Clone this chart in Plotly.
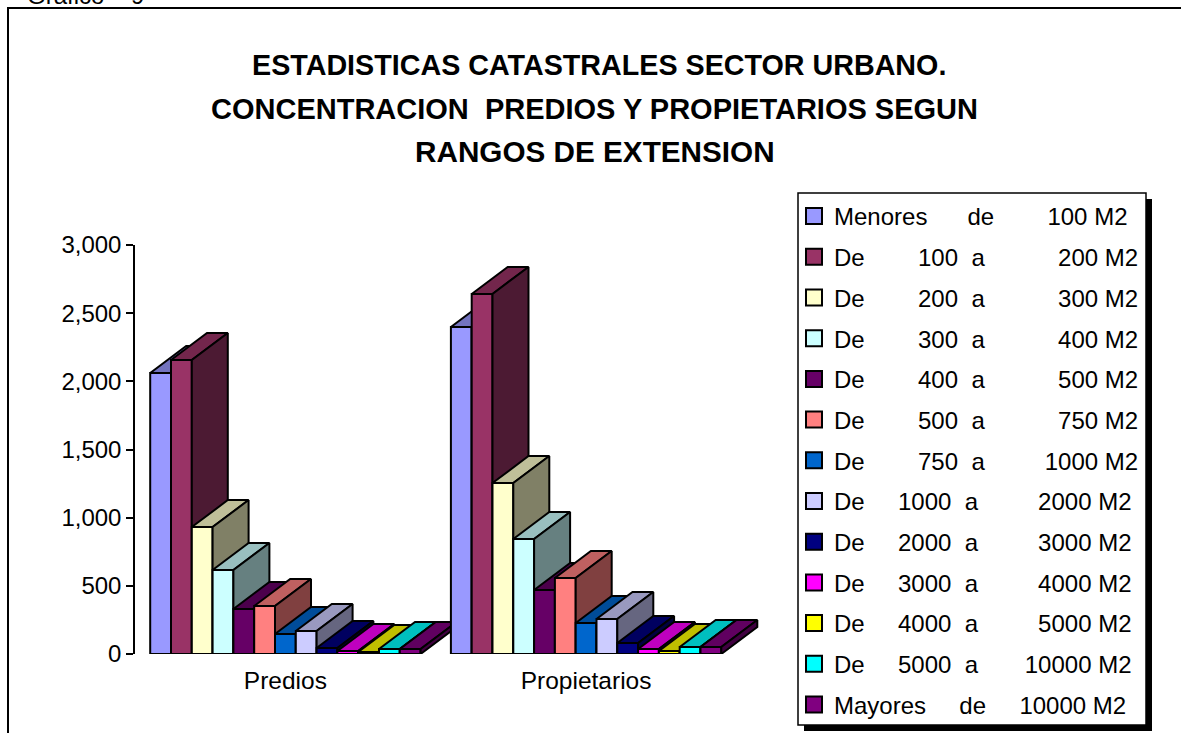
import plotly.graph_objects as go

W, H = 1181, 733
NB = "\u00a0"

categories = ["Predios", "Propietarios"]
series_names = [
    "Menores      de        100 M2",
    "De        100  a           200 M2",
    "De        200  a           300 M2",
    "De        300  a           400 M2",
    "De        400  a           500 M2",
    "De        500  a           750 M2",
    "De        750  a         1000 M2",
    "De     1000  a         2000 M2",
    "De     2000  a         3000 M2",
    "De     3000  a         4000 M2",
    "De     4000  a         5000 M2",
    "De     5000  a       10000 M2",
    "Mayores     de     10000 M2",
]
predios = [2061, 2156, 931, 616, 330, 352, 147, 169, 44, 22, 15, 37, 37]
propietarios = [2399, 2641, 1254, 843, 469, 557, 227, 257, 81, 37, 22, 51, 51]
front_colors = ["#9999FF", "#993366", "#FFFFCC", "#CCFFFF", "#660066", "#FF8080", "#0066CC",
                "#CCCCFF", "#000080", "#FF00FF", "#FFFF00", "#00FFFF", "#800080"]
title_lines = ["ESTADISTICAS CATASTRALES SECTOR URBANO.",
               "CONCENTRACION  PREDIOS Y PROPIETARIOS SEGUN",
               "RANGOS DE EXTENSION"]
y_ticks = [0, 500, 1000, 1500, 2000, 2500, 3000]

FONT = "Liberation Sans, Arial, sans-serif"
PX_PER_CAT = 300.7
PLOT_L, PLOT_R, PLOT_T, PLOT_B = 135, 760, 245, 654
BAR_W = 20.8 / PX_PER_CAT
DEPTH_X = 36 / PX_PER_CAT
DEPTH_Y = 27 * 3000 / (PLOT_B - PLOT_T)
X_RANGE = [-(285.4 - PLOT_L) / PX_PER_CAT, (PLOT_R - 285.4) / PX_PER_CAT]
X_DOMAIN = [PLOT_L / W, PLOT_R / W]
Y_DOMAIN = [(H - PLOT_B) / H, (H - PLOT_T) / H]


def shade(hex_color, k):
    r, g, b = (int(hex_color[i:i + 2], 16) for i in (1, 3, 5))
    return f"rgb({round(r * k)},{round(g * k)},{round(b * k)})"


def px(x):
    return x / W


def py(y):
    return (H - y) / H


fig = go.Figure()
layout_axes = {}
LW = 2
n = 0
for cat_i, values in enumerate([predios, propietarios]):
    for s_i, v in enumerate(values):
        n += 1
        sfx = "" if n == 1 else str(n)
        xa, ya = "x" + sfx, "y" + sfx
        if n > 1:
            layout_axes["xaxis" + sfx] = dict(domain=X_DOMAIN, range=X_RANGE, overlaying="x",
                                              visible=False, anchor=ya)
            layout_axes["yaxis" + sfx] = dict(domain=Y_DOMAIN, range=[0, 3000], overlaying="y",
                                              visible=False, anchor=xa)
        offset = (s_i - 6.5) * BAR_W
        x0 = cat_i + offset
        x1 = x0 + BAR_W
        fig.add_trace(go.Bar(x=[cat_i], y=[v], width=[BAR_W], offset=[offset], xaxis=xa, yaxis=ya,
                             name=series_names[s_i].strip(), legendgroup=f"s{s_i}", showlegend=False,
                             marker=dict(color=front_colors[s_i], line=dict(color="black", width=LW))))
        fig.add_trace(go.Scatter(
            x=[x0, x1, x1 + DEPTH_X, x0 + DEPTH_X, x0], y=[v, v, v + DEPTH_Y, v + DEPTH_Y, v],
            xaxis=xa, yaxis=ya, mode="lines", fill="toself", fillcolor=shade(front_colors[s_i], 0.75),
            line=dict(color="black", width=LW), hoverinfo="skip", showlegend=False,
            legendgroup=f"s{s_i}", cliponaxis=False))
        fig.add_trace(go.Scatter(
            x=[x1, x1, x1 + DEPTH_X, x1 + DEPTH_X, x1], y=[0, v, v + DEPTH_Y, DEPTH_Y, 0],
            xaxis=xa, yaxis=ya, mode="lines", fill="toself", fillcolor=shade(front_colors[s_i], 0.5),
            line=dict(color="black", width=LW), hoverinfo="skip", showlegend=False,
            legendgroup=f"s{s_i}", cliponaxis=False))

for s_i, name in enumerate(series_names):
    fig.add_trace(go.Scatter(x=[None], y=[None], mode="markers", name=name.replace(" ", NB),
                             legendgroup=f"s{s_i}",
                             marker=dict(symbol="square", size=16, color=front_colors[s_i],
                                         line=dict(color="black", width=2))))

annotations = [
    dict(text=line, x=px(xc), y=py(yc), xref="paper", yref="paper", xanchor="center", yanchor="middle",
         showarrow=False, font=dict(family=FONT, size=fs, color="black", weight="bold"))
    for line, xc, yc, fs in zip(title_lines, [599, 594, 595], [65, 109, 151], [28.7, 29, 29.7])
]
annotations.append(dict(text="Gráfico" + NB * 4 + "9", x=px(25), y=py(11), xref="paper", yref="paper",
                        xanchor="left", yanchor="bottom", showarrow=False,
                        font=dict(family=FONT, size=24, color="black")))

shapes = [
    dict(type="line", xref="paper", yref="paper", x0=px(7), x1=px(1181), y0=py(8), y1=py(8),
         line=dict(color="black", width=2), layer="below"),
    dict(type="line", xref="paper", yref="paper", x0=px(8), x1=px(8), y0=py(7), y1=py(733),
         line=dict(color="black", width=2), layer="below"),
    dict(type="rect", xref="paper", yref="paper", x0=px(804), x1=px(1152), y0=py(731), y1=py(199),
         line=dict(width=0), fillcolor="black", layer="below"),
    dict(type="rect", xref="paper", yref="paper", x0=px(798), x1=px(1146), y0=py(725), y1=py(193),
         line=dict(color="black", width=1.5), fillcolor="white", layer="below"),
]

fig.update_layout(
    width=W, height=H, margin=dict(l=0, r=0, t=0, b=0, autoexpand=False), autosize=False,
    paper_bgcolor="white", plot_bgcolor="rgba(0,0,0,0)",
    font=dict(family=FONT, size=24, color="black"),
    barmode="overlay", annotations=annotations, shapes=shapes,
    xaxis=dict(domain=X_DOMAIN, range=X_RANGE, tickmode="array", tickvals=[0, 1], ticktext=categories,
               showline=False, showgrid=False, zeroline=False, ticks="", anchor="y",
               tickfont=dict(size=24.5), ticklabelstandoff=9),
    yaxis=dict(domain=Y_DOMAIN, range=[0, 3000], tickmode="array", tickvals=y_ticks, tickformat=",",
               showline=True, linecolor="black", linewidth=1.5, ticks="outside", ticklen=7,
               tickwidth=1.5, tickcolor="black", showgrid=False, zeroline=False, anchor="x",
               tickfont=dict(size=24)),
    legend=dict(x=px(794), y=py(194), xanchor="left", yanchor="top", bgcolor="rgba(0,0,0,0)",
                borderwidth=0, font=dict(family=FONT, size=24, color="black"), itemwidth=30,
                tracegroupgap=6.5, traceorder="grouped", itemclick=False, itemdoubleclick=False),
    showlegend=True,
    **layout_axes,
)

fig.write_html("out.html", config={"displayModeBar": False},
               post_script="document.body.style.margin='0';document.body.style.overflow='hidden';")
